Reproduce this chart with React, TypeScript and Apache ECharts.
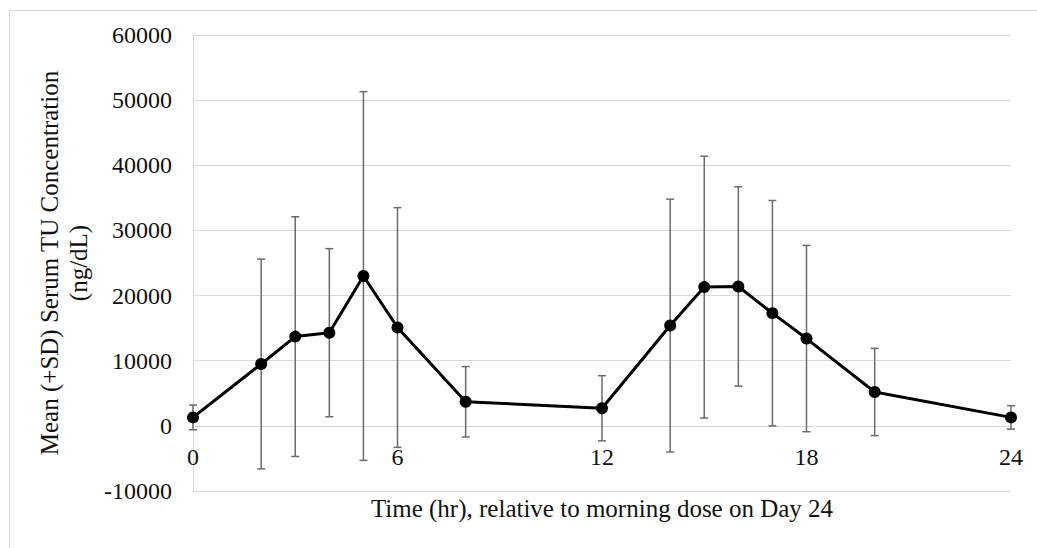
import React, { useEffect, useRef } from "react";
import * as echarts from "echarts";

const times = [0, 2, 3, 4, 5, 6, 8, 12, 14, 15, 16, 17, 18, 20, 24];
const means = [1300, 9500, 13700, 14300, 23000, 15100, 3700, 2700, 15400, 21300, 21400, 17300, 13400, 5200, 1300];
const sds = [1900, 16100, 18400, 12900, 28300, 18400, 5400, 5000, 19400, 20100, 15300, 17300, 14300, 6700, 1800];
const yMin = -10000;
const yMax = 60000;
const xTitle = "Time (hr), relative to morning dose on Day 24";
const yTitle = "Mean (+SD) Serum TU Concentration\n(ng/dL)";

const FONT = '"Liberation Serif", "Times New Roman", serif';

const GRID_TOP = 35;
const GRID_BOTTOM = 57;
const HEIGHT = 548;

export default function App() {
  const ref = useRef<HTMLDivElement>(null);
  useEffect(() => {
    if (!ref.current) return;
    const chart = echarts.init(ref.current, undefined, { renderer: "svg" });
    const lineData = times.map((t, i) => [t, means[i]]);
    const errData = times.map((t, i) => [t, means[i] - sds[i], means[i] + sds[i]]);
    const plotH = HEIGHT - GRID_TOP - GRID_BOTTOM;
    // raise the x axis so that it crosses the y axis at 0
    const zeroOffset = -(plotH * (0 - yMin)) / (yMax - yMin);
    chart.setOption({
      animation: false,
      backgroundColor: "#fff",
      graphic: [
        {
          type: "rect",
          shape: { x: 9.5, y: 10.5, width: 1200, height: 700 },
          style: { fill: "none", stroke: "#d9d9d9", lineWidth: 1 },
          silent: true,
          z: -10,
        },
      ],
      grid: { left: 193, right: 26, top: GRID_TOP, bottom: GRID_BOTTOM, containLabel: false, outerBoundsMode: "none" },
      xAxis: {
        type: "value",
        min: 0,
        max: 24,
        interval: 6,
        offset: zeroOffset,
        axisLine: { show: true, onZero: false, lineStyle: { color: "#d9d9d9", width: 1 } },
        axisTick: { show: false },
        splitLine: { show: false },
        axisLabel: { fontFamily: FONT, fontSize: 24, color: "#111", margin: 19 },
        name: xTitle,
        nameLocation: "middle",
        nameGap: 68,
        nameTextStyle: { fontFamily: FONT, fontSize: 25, color: "#111", lineHeight: 29 },
      },
      yAxis: {
        type: "value",
        min: yMin,
        max: yMax,
        interval: 10000,
        axisLine: { show: true, onZero: false, lineStyle: { color: "#d9d9d9", width: 1 } },
        axisTick: { show: false },
        splitLine: { show: true, lineStyle: { color: "#d9d9d9", width: 1 } },
        axisLabel: {
          fontFamily: FONT,
          fontSize: 24,
          color: "#111",
          margin: 21,
          formatter: (v: number) => String(v),
        },
        name: yTitle,
        nameLocation: "middle",
        nameGap: 92,
        nameTextStyle: { fontFamily: FONT, fontSize: 25, color: "#111", lineHeight: 29, align: "center" },
      },
      series: [
        {
          type: "custom",
          data: errData,
          z: 1,
          renderItem: (params: any, api: any) => {
            const x = api.value(0);
            const lo = api.coord([x, api.value(1)]);
            const hi = api.coord([x, api.value(2)]);
            const cap = 4;
            const style = { stroke: "#6b6b6b", lineWidth: 1.5 };
            return {
              type: "group",
              children: [
                { type: "line", shape: { x1: lo[0], y1: lo[1], x2: hi[0], y2: hi[1] }, style },
                { type: "line", shape: { x1: hi[0] - cap, y1: hi[1], x2: hi[0] + cap, y2: hi[1] }, style },
                { type: "line", shape: { x1: lo[0] - cap, y1: lo[1], x2: lo[0] + cap, y2: lo[1] }, style },
              ],
            };
          },
        },
        {
          type: "line",
          data: lineData,
          z: 3,
          symbol: "circle",
          symbolSize: 12,
          itemStyle: { color: "#000" },
          lineStyle: { color: "#000", width: 3 },
        },
      ],
    });
    return () => chart.dispose();
  }, []);
  return (
    <div
      ref={ref}
      style={{ position: "fixed", left: 0, top: 0, width: 1037, height: HEIGHT }}
    />
  );
}
